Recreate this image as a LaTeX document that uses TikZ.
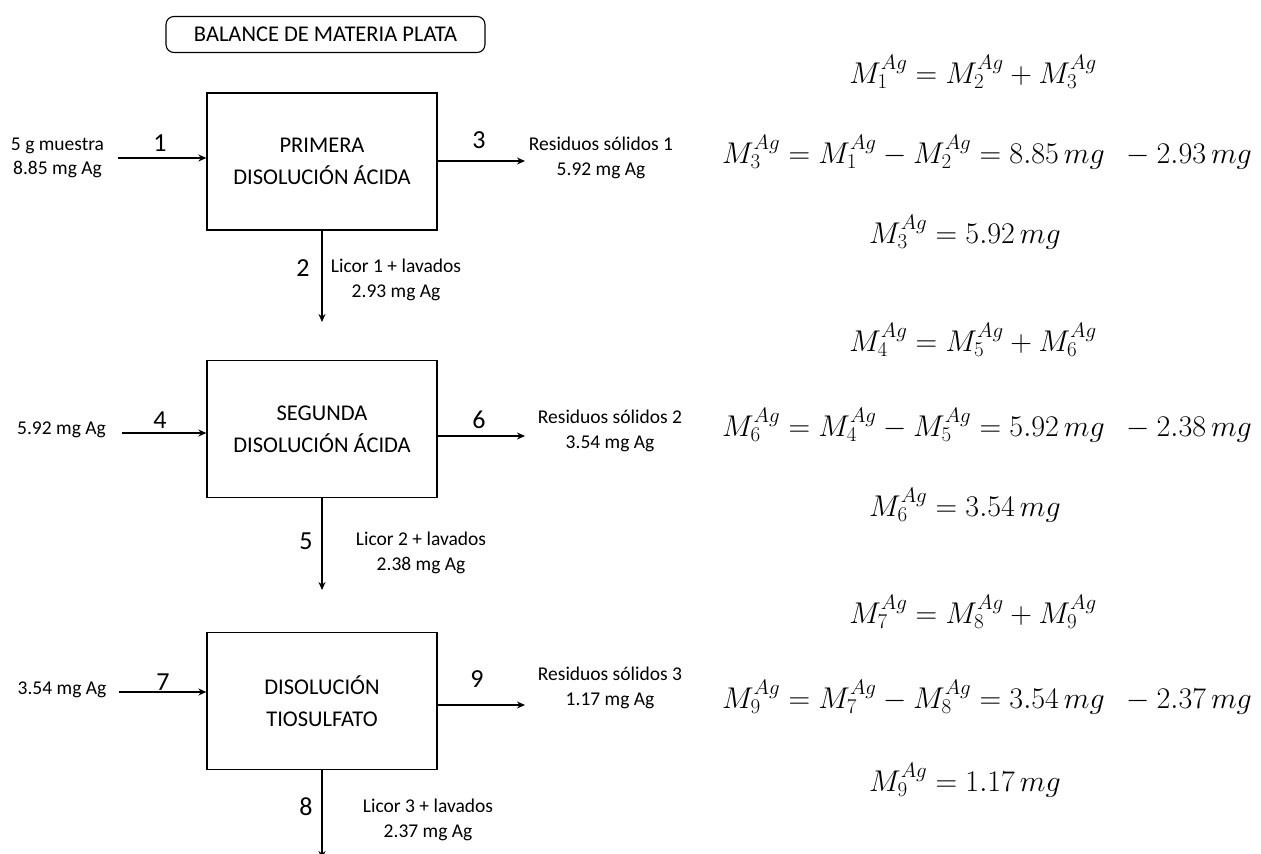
\RequirePackage{fix-cm}
\documentclass[tikz,border=0pt]{standalone}
\usepackage{fontspec}
\setmainfont{Carlito}
\usetikzlibrary{arrows.meta}

\begin{document}
\begin{tikzpicture}[x=1pt,y=-1pt,
  unitbox/.style={draw,line width=1.3pt,minimum width=230pt,minimum height=137pt,
    align=center,font=\fontsize{22.5}{32}\selectfont},
  flow/.style={line width=1.3pt,-{Stealth[length=8pt,width=7pt]}},
  streamno/.style={font=\fontsize{26}{28}\selectfont},
  tag/.style={align=center,font=\fontsize{19.5}{24.5}\selectfont},
  eqn/.style={font=\fontsize{30}{33}\selectfont}]
\useasboundingbox (0,0) rectangle (1261,854);

% title
\node[draw,line width=1.1pt,rounded corners=8pt,minimum width=319pt,minimum height=36pt,
  font=\fontsize{22.5}{25}\selectfont] (title) at (325.5,34.5) {BALANCE DE MATERIA PLATA};

% process units
\node[unitbox] (b1) at (322,161.5) {PRIMERA\\DISOLUCIÓN ÁCIDA};
\node[unitbox] (b2) at (322,429) {SEGUNDA\\DISOLUCIÓN ÁCIDA};
\node[unitbox] (b3) at (322,701) {DISOLUCIÓN\\TIOSULFATO};

% free ends of the streams
\coordinate (s1) at (118,158);
\coordinate (s3) at (525,161);
\coordinate (s2) at (322,322);
\coordinate (s4) at (122,433);
\coordinate (s6) at (525,436);
\coordinate (s5) at (322,590);
\coordinate (s7) at (119,692);
\coordinate (s9) at (525,705);
\coordinate (s8) at (322,859);

\draw[flow] (s1) -- (s1 -| b1.west);
\draw[flow] (s3 -| b1.east) -- (s3);
\draw[flow] (b1.south) -- (s2);
\draw[flow] (s4) -- (s4 -| b2.west);
\draw[flow] (s6 -| b2.east) -- (s6);
\draw[flow] (b2.south) -- (s5);
\draw[flow] (s7) -- (s7 -| b3.west);
\draw[flow] (s9 -| b3.east) -- (s9);
\draw[flow] (b3.south) -- (s8);

% stream numbers
\node[streamno] (n1) at (160,143) {1};
\node[streamno] (n3) at (479,140) {3};
\node[streamno] (n2) at (303,268) {2};
\node[streamno] (n4) at (160,420) {4};
\node[streamno] (n6) at (479,420) {6};
\node[streamno] (n5) at (306,541) {5};
\node[streamno] (n7) at (163,682) {7};
\node[streamno] (n9) at (477,679) {9};
\node[streamno] (n8) at (306,807) {8};

% stream descriptions
\node[tag] (t1) at (57.5,158) {5 g muestra\\8.85 mg Ag};
\node[tag] (t3) at (601,158) {Residuos sólidos 1\\5.92 mg Ag};
\node[tag] (t2) at (396,280) {Licor 1 + lavados\\2.93 mg Ag};
\node[tag] (t4) at (61.5,430) {5.92 mg Ag};
\node[tag] (t6) at (610,431) {Residuos sólidos 2\\3.54 mg Ag};
\node[tag] (t5) at (421,553) {Licor 2 + lavados\\2.38 mg Ag};
\node[tag] (t7) at (62,690) {3.54 mg Ag};
\node[tag] (t9) at (610,688) {Residuos sólidos 3\\1.17 mg Ag};
\node[tag] (t8) at (428,820) {Licor 3 + lavados\\2.37 mg Ag};

% silver balances
\node[eqn] (e1) at (973,72) {$M_1^{Ag}=M_2^{Ag}+M_3^{Ag}$};
\node[eqn] (e2) at (987,152) {$M_3^{Ag}=M_1^{Ag}-M_2^{Ag}=8.85\,mg\;\ -2.93\,mg$};
\node[eqn] (e3) at (965,232) {$M_3^{Ag}=5.92\,mg$};
\node[eqn] (e4) at (973,340) {$M_4^{Ag}=M_5^{Ag}+M_6^{Ag}$};
\node[eqn] (e5) at (987,425) {$M_6^{Ag}=M_4^{Ag}-M_5^{Ag}=5.92\,mg\;\ -2.38\,mg$};
\node[eqn] (e6) at (965,505) {$M_6^{Ag}=3.54\,mg$};
\node[eqn] (e7) at (973,612) {$M_7^{Ag}=M_8^{Ag}+M_9^{Ag}$};
\node[eqn] (e8) at (987,697) {$M_9^{Ag}=M_7^{Ag}-M_8^{Ag}=3.54\,mg\;\ -2.37\,mg$};
\node[eqn] (e9) at (965,780) {$M_9^{Ag}=1.17\,mg$};
\end{tikzpicture}
\end{document}
